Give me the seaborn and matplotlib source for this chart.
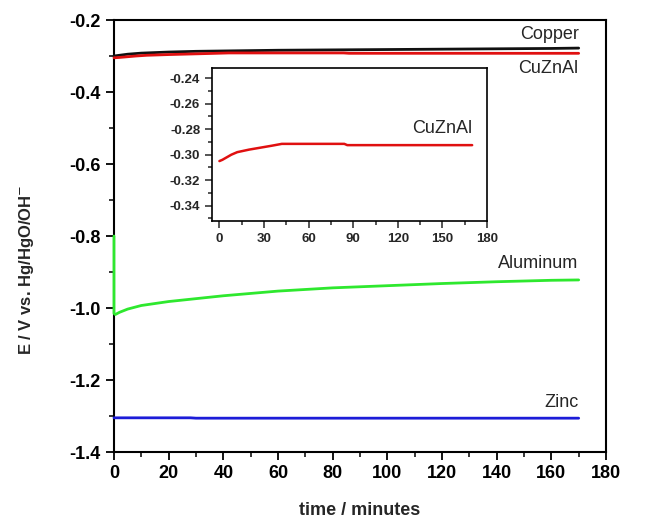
import numpy as np
import pandas as pd
import matplotlib
matplotlib.use("Agg")
import matplotlib.pyplot as plt
from matplotlib.ticker import MultipleLocator
import seaborn as sns

# ---- data ----
copper_t = [0, 2, 5, 10, 20, 30, 40, 60, 80, 100, 120, 140, 160, 170]
copper_E = [-0.300, -0.298, -0.295, -0.292, -0.289, -0.287, -0.286, -0.284,
            -0.283, -0.282, -0.281, -0.280, -0.279, -0.278]

cuznal_t = [0, 2, 5, 8, 12, 16, 20, 25, 30, 35, 42, 60, 84, 86, 120, 170]
cuznal_E = [-0.305, -0.304, -0.302, -0.300, -0.298, -0.297, -0.296, -0.295,
            -0.294, -0.293, -0.2915, -0.2915, -0.2915, -0.2925, -0.2925, -0.2925]

alum_t = [0, 0, 0.5, 2, 5, 10, 20, 30, 40, 60, 80, 100, 120, 140, 160, 170]
alum_E = [-0.80, -1.015, -1.018, -1.012, -1.003, -0.993, -0.982, -0.974,
          -0.966, -0.953, -0.944, -0.938, -0.932, -0.927, -0.923, -0.922]

zinc_t = [0, 28, 30, 170]
zinc_E = [-1.305, -1.305, -1.306, -1.306]

series_names = ["Copper", "CuZnAl", "Aluminum", "Zinc"]
series_colors = ["#111111", "#e01010", "#2ee82e", "#1c1cd8"]

sns.set_style("ticks")
plt.rcParams["font.family"] = ["Liberation Sans", "DejaVu Sans"]

fig = plt.figure(figsize=(6.6, 5.21), dpi=100)
ax = fig.add_axes([0.1727, 0.1324, 0.7455, 0.8292])

data = {
    "Copper": (copper_t, copper_E),
    "CuZnAl": (cuznal_t, cuznal_E),
    "Aluminum": (alum_t, alum_E),
    "Zinc": (zinc_t, zinc_E),
}
for name, col in zip(series_names, series_colors):
    t, e = data[name]
    df = pd.DataFrame({"t": t, "E": e})
    sns.lineplot(data=df, x="t", y="E", ax=ax, color=col, lw=2,
                 sort=False, estimator=None, zorder=3, clip_on=False)

ax.set_xlim(0, 180)
ax.set_ylim(-1.4, -0.2)
ax.xaxis.set_major_locator(MultipleLocator(20))
ax.xaxis.set_minor_locator(MultipleLocator(10))
ax.yaxis.set_major_locator(MultipleLocator(0.2))
ax.yaxis.set_minor_locator(MultipleLocator(0.1))
ax.yaxis.set_major_formatter(plt.FuncFormatter(lambda v, p: f"{v:.1f}"))
ax.tick_params(which="major", direction="out", length=6, width=1.3,
               labelsize=13, colors="black")
ax.tick_params(which="minor", direction="out", length=3.5, width=1.3)
for lab in ax.get_xticklabels() + ax.get_yticklabels():
    lab.set_fontweight("bold")
for s in ax.spines.values():
    s.set_linewidth(1.5)
    s.set_color("black")
    s.set_visible(True)
ax.set_xlabel("time / minutes", fontsize=13, fontweight="bold", labelpad=14)
ax.set_ylabel("E / V vs. Hg/HgO/OH$^{-}$", fontsize=12, fontweight="bold")
ax.yaxis.set_label_coords(-0.158, 0.421)

ax.text(170, -0.265, "Copper", ha="right", va="bottom", fontsize=13)
ax.text(170, -0.31, "CuZnAl", ha="right", va="top", fontsize=13)
ax.text(170, -0.90, "Aluminum", ha="right", va="bottom", fontsize=13)
ax.text(170, -1.285, "Zinc", ha="right", va="bottom", fontsize=13)

# ---- inset ----
ins = fig.add_axes([0.3212, 0.5758, 0.4167, 0.2937])
sns.lineplot(data=pd.DataFrame({"t": cuznal_t, "E": cuznal_E}), x="t", y="E",
             ax=ins, color="#e01010", lw=1.8, sort=False, estimator=None)
ins.set_xlim(-5, 180)
ins.set_ylim(-0.352, -0.232)
ins.xaxis.set_major_locator(MultipleLocator(30))
ins.xaxis.set_minor_locator(MultipleLocator(15))
ins.yaxis.set_major_locator(MultipleLocator(0.02))
ins.yaxis.set_minor_locator(MultipleLocator(0.01))
ins.yaxis.set_major_formatter(plt.FuncFormatter(lambda v, p: f"{v:.2f}"))
ins.tick_params(which="major", direction="out", length=5, width=1.1,
                labelsize=9.5)
ins.tick_params(which="minor", direction="out", length=3, width=1.1)
for lab in ins.get_xticklabels() + ins.get_yticklabels():
    lab.set_fontweight("bold")
for s in ins.spines.values():
    s.set_linewidth(1.2)
    s.set_color("black")
ins.set_xlabel("")
ins.set_ylabel("")
ins.text(170, -0.286, "CuZnAl", ha="right", va="bottom", fontsize=13)

fig.savefig("out.png", dpi=100)
